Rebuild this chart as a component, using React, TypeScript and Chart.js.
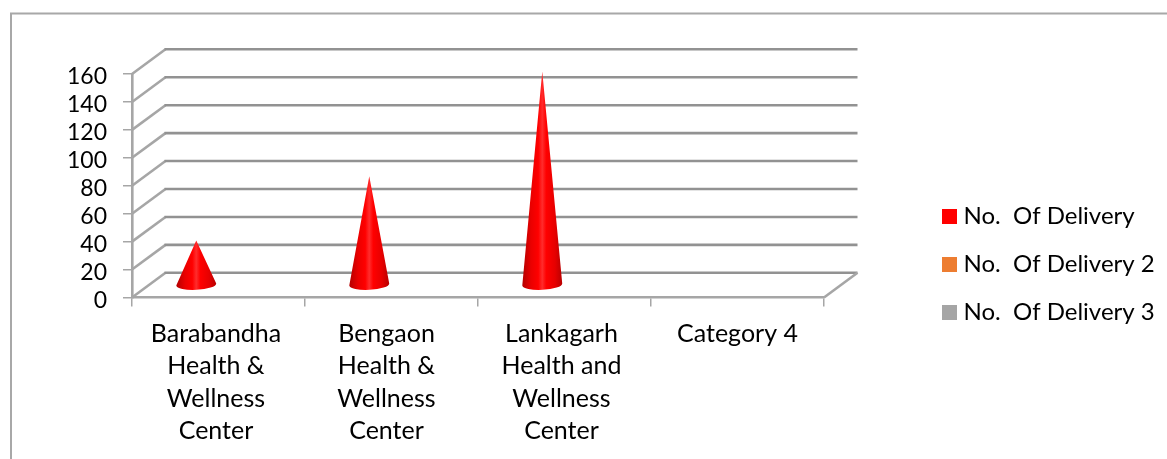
import React, { useEffect, useRef } from "react";
import { Chart, registerables } from "chart.js";

Chart.register(...registerables);

const categories = [
  ["Barabandha", "Health &", "Wellness", "Center"],
  ["Bengaon", "Health &", "Wellness", "Center"],
  ["Lankagarh", "Health and", "Wellness", "Center"],
  "Category 4",
];
const delivery1 = [32, 78, 153, null];
const delivery2 = [null, null, null, null];
const delivery3 = [null, null, null, null];

const FONT = "Lato";
const TEXT = "#000000";
const AXIS = "#a6a6a6";
const GRID = "#929292";
const FRAME = "#a8a8a8";
const DEPTH_X = 33.5;
const DEPTH_Y = 24.7;
const LABEL_NUDGE = [-2.5, -5, -3, 0];

const chart3d = {
  id: "chart3d",
  afterLayout(chart: any) {
    const lg = chart.legend;
    const pad = lg.options.labels.padding;
    lg.left = 947.5 - pad;
    lg.right = 1167;
    lg.top = 180.5;
    lg.bottom = lg.top + 260;
  },
  beforeDraw(chart: any) {
    const x = chart.scales.x;
    x.getLabelItems(chart.chartArea).forEach((it: any, i: number) => {
      it.options.translation[0] = x.getPixelForTick(i) + LABEL_NUDGE[i];
    });
  },
  beforeDatasetsDraw(chart: any) {
    const { ctx, scales } = chart;
    const { x, y } = scales;
    ctx.save();
    // outer frame: only the top and left edges fall inside the picture
    ctx.strokeStyle = FRAME;
    ctx.lineWidth = 2;
    ctx.beginPath();
    ctx.moveTo(11, 470);
    ctx.lineTo(11, 13.5);
    ctx.lineTo(1180, 13.5);
    ctx.stroke();

    ctx.lineWidth = 2.6;
    for (const t of y.ticks) {
      const py = y.getPixelForValue(t.value);
      ctx.beginPath();
      ctx.strokeStyle = AXIS;
      ctx.moveTo(x.left, py);
      ctx.lineTo(x.left + DEPTH_X, py - DEPTH_Y);
      ctx.stroke();
      ctx.beginPath();
      ctx.strokeStyle = GRID;
      ctx.moveTo(x.left + DEPTH_X - 1, py - DEPTH_Y);
      ctx.lineTo(x.right + DEPTH_X, py - DEPTH_Y);
      ctx.stroke();
    }
    // right edge of the floor
    const by = y.getPixelForValue(0);
    ctx.beginPath();
    ctx.strokeStyle = AXIS;
    ctx.moveTo(x.right, by);
    ctx.lineTo(x.right + DEPTH_X, by - DEPTH_Y);
    ctx.stroke();
    ctx.restore();
  },
  beforeDatasetDraw(chart: any, args: any) {
    const { ctx } = chart;
    const meta = chart.getDatasetMeta(args.index);
    ctx.save();
    meta.data.forEach((el: any, i: number) => {
      const v = chart.data.datasets[args.index].data[i];
      if (v == null) return;
      const { x, y, base, width } = el.getProps(["x", "y", "base", "width"], true);
      const cx = x + DEPTH_X / 2;
      const by = base - DEPTH_Y / 2;
      const tip = y - DEPTH_Y / 2;
      const rx = (width + 1) / 2;
      const ry = 5.4;
      const g = ctx.createLinearGradient(cx - rx, 0, cx + rx, 0);
      g.addColorStop(0, "#b40000");
      g.addColorStop(0.22, "#ea0000");
      g.addColorStop(0.4, "#ff0000");
      g.addColorStop(0.5, "#ff2c2c");
      g.addColorStop(0.6, "#ff0000");
      g.addColorStop(0.82, "#e60000");
      g.addColorStop(1, "#b80000");
      ctx.fillStyle = g;
      ctx.beginPath();
      ctx.moveTo(cx, tip);
      ctx.lineTo(cx - rx, by + 1);
      ctx.ellipse(cx, by, rx, ry, -0.05, Math.PI, 0, true);
      ctx.closePath();
      ctx.fill();
    });
    ctx.restore();
    return false;
  },
};

export default function App() {
  const ref = useRef<HTMLCanvasElement>(null);
  useEffect(() => {
    const chart = new Chart(ref.current as HTMLCanvasElement, {
      type: "bar",
      data: {
        labels: categories as any,
        datasets: [
          { label: "No.  Of Delivery", data: delivery1, backgroundColor: "#ff0000", borderColor: "#ff0000", borderWidth: 11 },
          { label: "No.  Of Delivery 2", data: delivery2, backgroundColor: "#ed7d31", borderColor: "#ed7d31", borderWidth: 11 },
          { label: "No.  Of Delivery 3", data: delivery3, backgroundColor: "#a5a5a5", borderColor: "#a5a5a5", borderWidth: 11 },
        ],
      },
      options: {
        responsive: false,
        animation: false,
        layout: { padding: { left: 0, top: 74, right: 143, bottom: 0 } },
        datasets: { bar: { categoryPercentage: 0.676, barPercentage: 1 } },
        scales: {
          x: {
            afterFit(s: any) { s.height = 161.5; },
            grid: { drawOnChartArea: false, color: AXIS, lineWidth: 1.5, tickLength: 9, offset: true },
            border: { color: AXIS, width: 2.6 },
            ticks: {
              color: TEXT,
              autoSkip: false,
              maxRotation: 0,
              minRotation: 0,
              padding: 11,
              font: { family: FONT, size: 25, lineHeight: 32.5 / 25 },
            },
          },
          y: {
            min: 0,
            max: 160,
            afterFit(s: any) { s.width = 132; },
            grid: { drawOnChartArea: false, color: AXIS, lineWidth: 1.5, tickLength: 9 },
            border: { color: AXIS, width: 2.6 },
            ticks: {
              stepSize: 20,
              autoSkip: false,
              color: TEXT,
              padding: 16,
              labelOffset: 3,
              font: { family: FONT, size: 23 },
            },
          },
        },
        plugins: {
          title: { display: false },
          tooltip: { enabled: false },
          legend: {
            position: "right",
            align: "start",
            maxWidth: 200,
            labels: {
              color: TEXT,
              boxWidth: 4,
              boxHeight: 4,
              padding: 24,
              font: { family: FONT, size: 24 },
            },
          },
        },
      } as any,
      plugins: [chart3d],
    });
    return () => chart.destroy();
  }, []);
  return (
    <div style={{ position: "absolute", left: 0, top: 0, width: 1167, height: 459, background: "#fff" }}>
      <canvas ref={ref} width={1167} height={459} style={{ display: "block" }} />
    </div>
  );
}
